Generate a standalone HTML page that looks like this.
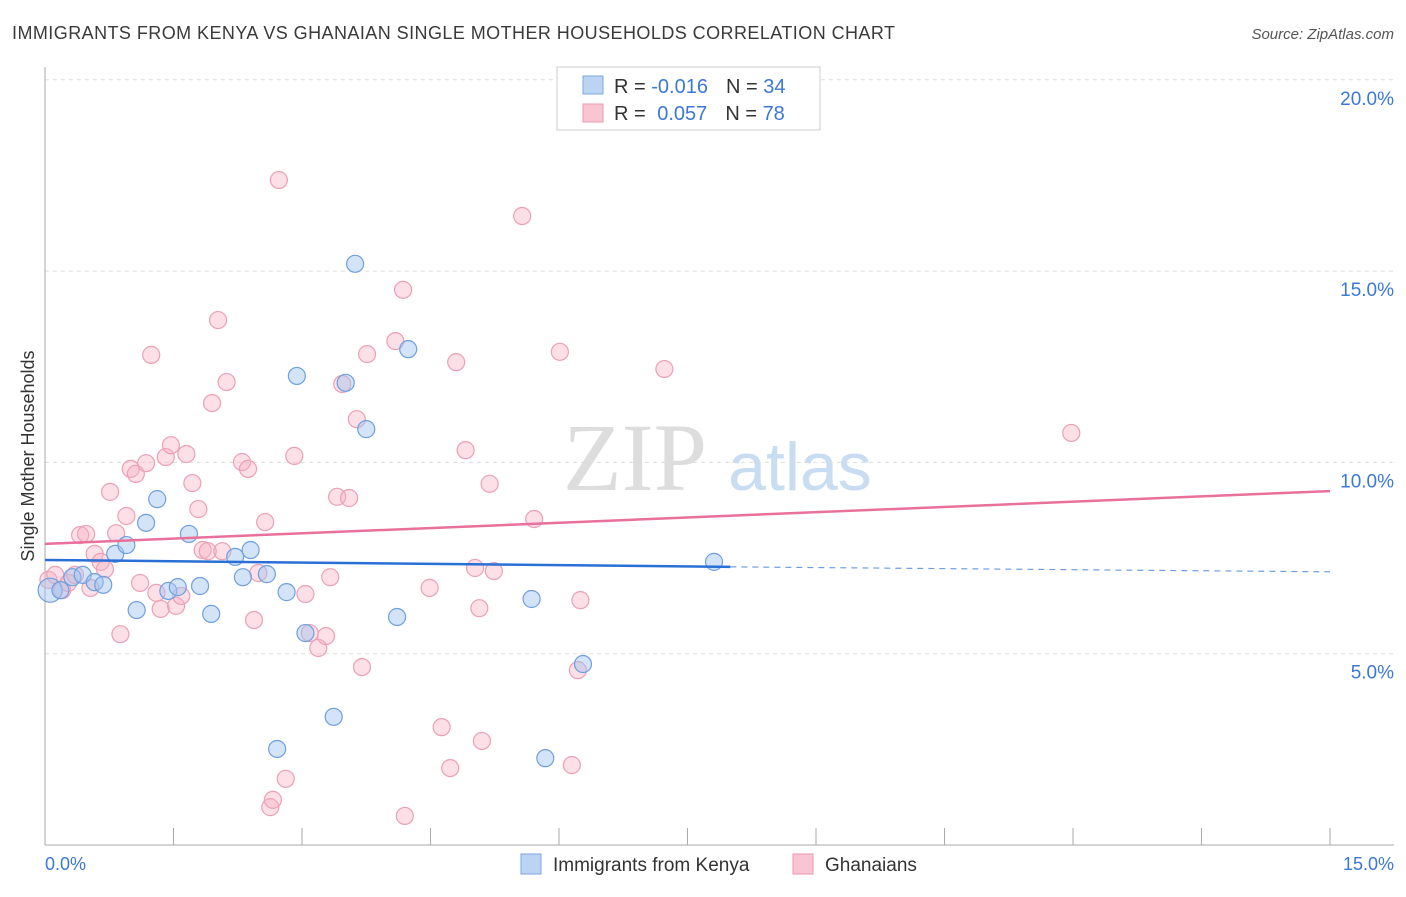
<!DOCTYPE html>
<html><head><meta charset="utf-8"><style>
body{margin:0;background:#fff;font-family:"Liberation Sans",sans-serif}
</style></head><body>
<svg id="c" width="1406" height="892" xmlns="http://www.w3.org/2000/svg">
<text x="12" y="39" font-size="18" fill="#3a3a3a" textLength="883">IMMIGRANTS FROM KENYA VS GHANAIAN SINGLE MOTHER HOUSEHOLDS CORRELATION CHART</text>
<text x="1394" y="39" font-size="15" fill="#555" font-style="italic" text-anchor="end">Source: ZipAtlas.com</text>
<text x="635" y="490" font-size="96" fill="#ddd" font-family="Liberation Serif,serif" text-anchor="middle">ZIP</text>
<text x="800" y="490" font-size="68" fill="#c8dcf2" text-anchor="middle">atlas</text>
<g id="grid"></g><g id="pts"></g><g id="trend"></g>
<text transform="translate(34,456) rotate(-90)" font-size="18" fill="#333" text-anchor="middle">Single Mother Households</text>
<text x="45" y="870" font-size="18" fill="#3b78d8">0.0%</text>
<text x="1394" y="870" font-size="18" fill="#3b78d8" text-anchor="end">15.0%</text>
<g>
<rect x="557" y="67" width="263" height="63" fill="#fff" stroke="#ccc"/>
<rect x="583" y="76" width="20" height="18" fill="#bcd4f4" stroke="#7aa7e0"/>
<rect x="583" y="104" width="20" height="18" fill="#f9c5d3" stroke="#e89ab0"/>
<text x="614" y="93" font-size="20" fill="#333">R = <tspan fill="#3b78d8">-0.016</tspan><tspan dx="18">N = </tspan><tspan fill="#3b78d8">34</tspan></text>
<text x="614" y="120" font-size="20" fill="#333">R = <tspan fill="#3b78d8" dx="6">0.057</tspan><tspan dx="18">N = </tspan><tspan fill="#3b78d8">78</tspan></text>
</g>
<g>
<rect x="521" y="854" width="20" height="20" fill="#bcd4f4" stroke="#7aa7e0"/>
<text x="553" y="871" font-size="19" fill="#333">Immigrants from Kenya</text>
<rect x="793" y="854" width="20" height="20" fill="#f9c5d3" stroke="#e89ab0"/>
<text x="825" y="871" font-size="19" fill="#333">Ghanaians</text>
</g>
</svg>
<script>
const yTicks=[5,10,15,20];
const yTickLabels=["5.0%","10.0%","15.0%","20.0%"];
const blueX=[0.06,0.18,0.32,0.44,0.58,0.68,0.82,0.95,1.07,1.18,1.31,1.44,1.55,1.68,1.81,1.94,2.22,2.31,2.40,2.59,2.71,2.82,2.94,3.04,3.37,3.51,3.62,3.75,4.11,4.24,5.68,5.84,6.28,7.81];
const blueY=[6.66,6.66,7.00,7.06,6.87,6.80,7.61,7.84,6.14,8.42,9.04,6.64,6.74,8.13,6.77,6.04,7.53,7.00,7.71,7.08,2.51,6.61,12.26,5.54,3.35,12.08,15.19,10.87,5.96,12.96,6.43,2.27,4.73,7.40];
const pinkX=[0.04,0.12,0.20,0.27,0.35,0.41,0.48,0.53,0.58,0.65,0.70,0.76,0.83,0.88,0.95,1.00,1.06,1.11,1.18,1.24,1.30,1.35,1.41,1.47,1.53,1.59,1.65,1.72,1.79,1.84,1.90,1.95,2.02,2.07,2.12,2.30,2.37,2.44,2.49,2.57,2.63,2.66,2.73,2.81,2.91,3.04,3.09,3.19,3.28,3.33,3.41,3.47,3.55,3.64,3.70,3.76,4.09,4.18,4.20,4.49,4.63,4.73,4.80,4.91,5.02,5.07,5.10,5.19,5.24,5.57,5.71,6.01,6.15,6.22,6.25,7.23,11.98];
const pinkY=[6.93,7.06,6.66,6.85,7.06,8.10,8.13,6.72,7.61,7.40,7.21,9.23,8.15,5.51,8.60,9.83,9.70,6.85,9.98,12.81,6.59,6.17,10.14,10.45,6.25,6.51,10.22,9.46,8.78,7.71,7.68,11.55,13.72,7.68,12.10,10.01,9.83,5.88,7.11,8.44,0.99,1.18,17.38,1.73,10.17,6.56,5.54,5.15,5.46,7.00,9.10,12.05,9.07,11.13,4.65,12.83,13.17,14.51,0.76,6.72,3.08,2.01,12.62,10.32,7.24,6.19,2.72,9.44,7.16,16.44,8.52,12.89,2.09,4.57,6.40,12.44,10.77];
const blueTrend=[7.45,7.27,7.14];
const pinkTrend=[7.87,9.25];
const NS="http://www.w3.org/2000/svg";
const sx=v=>45+v/15*1285, sy=v=>845-v/5*191.3;
function mk(t,a,p){const e=document.createElementNS(NS,t);for(const k in a)e.setAttribute(k,a[k]);document.getElementById(p).appendChild(e);return e;}
yTicks.forEach((t,i)=>{
 const l=mk('line',{x1:45,x2:1394,y1:sy(t),y2:sy(t),stroke:'#ddd','stroke-dasharray':'4,4'},'grid');
 
 
 const tx=mk('text',{x:1394,y:sy(t)+25,'font-size':19,fill:'#3b78d8','text-anchor':'end'},'grid');tx.textContent=yTickLabels[i];
 
 
});
mk('line',{x1:45,x2:45,y1:67,y2:845,stroke:'#aaa'},'grid');
mk('line',{x1:45,x2:1394,y1:845,y2:845,stroke:'#aaa'},'grid');
for(let i=0;i<=10;i++){const l=mk('line',{x1:sx(i*1.5),x2:sx(i*1.5),y1:828,y2:845,stroke:'#aaa'},'grid');
 
 }
pinkX.forEach((x,i)=>{const c=mk('circle',{cx:sx(x),cy:sy(pinkY[i]),r:8.5,fill:'rgba(248,175,196,0.4)',stroke:'#eba0b6','stroke-width':1.2},'pts');
 
 });
blueX.forEach((x,i)=>{const c=mk('circle',{cx:sx(x),cy:sy(blueY[i]),r:i==0?12:8.5,fill:'rgba(160,195,240,0.45)',stroke:'#6f9fe0','stroke-width':1.2},'pts');
 
 });
let b1=mk('line',{x1:sx(0),y1:sy(blueTrend[0]),x2:sx(8),y2:sy(blueTrend[1]),stroke:'#2a6fd6','stroke-width':2.5},'trend');


let b2=mk('line',{x1:sx(8),y1:sy(blueTrend[1]),x2:sx(15),y2:sy(blueTrend[2]),stroke:'#6f9fe0','stroke-width':1.2,'stroke-dasharray':'6,5'},'trend');


let p1=mk('line',{x1:sx(0),y1:sy(pinkTrend[0]),x2:sx(15),y2:sy(pinkTrend[1]),stroke:'#e8709a','stroke-width':2.5},'trend');


</script>
</body></html>
